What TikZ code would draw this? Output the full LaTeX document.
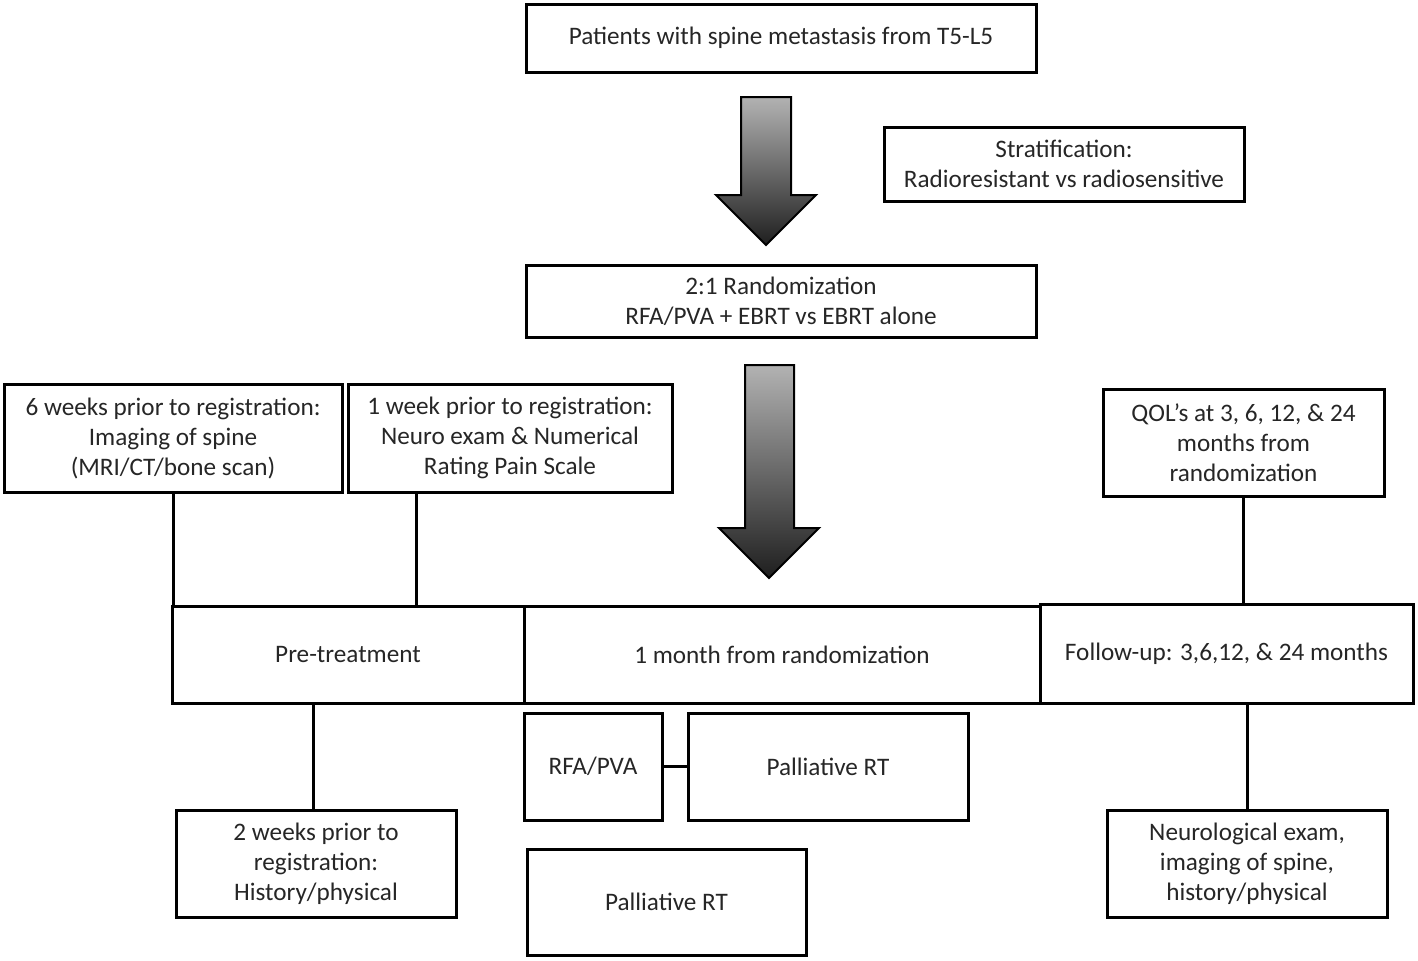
\documentclass[tikz,border=0pt]{standalone}
\usepackage{fontspec}
\setmainfont{Carlito}
\tikzset{
  box/.style={draw=black, line width=1.5pt, align=center, inner sep=1pt,
    font=\fontsize{12.6}{15}\selectfont, text=black!85},
  link/.style={line width=1.5pt},
  bigarrow/.style={top color=black!30, bottom color=black!88, draw=black, line width=1pt}
}
\begin{document}
\begin{tikzpicture}[x=0.5pt, y=-0.5pt]
  \useasboundingbox (0,0) rectangle (1418,960); % page frame
  % top part
  \node [box, minimum width=255pt, minimum height=34pt] (patients) at (781,38) {Patients with spine metastasis from T5-L5};
  \node [box, minimum width=180pt, minimum height=37pt] (strat) at (1064,164) {Stratification:\\Radioresistant vs radiosensitive};
  \node [box, minimum width=255pt, minimum height=36pt] (random) at (781,301) {2:1 Randomization\\RFA/PVA + EBRT vs EBRT alone};
  \fill [bigarrow] (741,97) -- (791,97) -- (791,195) -- (816,195) -- (766,245) -- (716,195) -- (741,195) -- cycle; % arrow 1
  \fill [bigarrow] (745,365) -- (794,365) -- (794,528) -- (819,528) -- (769,578) -- (719,528) -- (745,528) -- cycle; % arrow 2
  % boxes above the time line
  \node [box, minimum width=169pt, minimum height=54pt] (sixweeks) at (173,438) {6 weeks prior to registration:\\Imaging of spine\\(MRI/CT/bone scan)};
  \node [box, minimum width=162pt, minimum height=54pt] (oneweek) at (510,438) {1 week prior to registration:\\Neuro exam \& Numerical\\Rating Pain Scale};
  \node [box, minimum width=140.5pt, minimum height=53.5pt] (qol) at (1243.5,442.5) {QOL's at 3, 6, 12, \& 24\\months from\\randomization};
  % time line
  \node [box, minimum width=176pt, minimum height=48.5pt] (pretreat) at (348,654.5) {Pre-treatment};
  \node [box, minimum width=258pt, minimum height=48.5pt] (month) at (782,654.5) {1 month from randomization};
  \node [box, minimum width=186.5pt, minimum height=49.5pt] (followup) at (1226.5,653.5) {Follow-up: 3,6,12, \& 24 months};
  % boxes below the time line
  \node [box, minimum width=140pt, minimum height=53.5pt] (twoweeks) at (316,863.5) {2 weeks prior to\\registration:\\History/physical};
  \node [box, minimum width=69pt, minimum height=53.5pt] (rfa) at (593,766.5) {RFA/PVA};
  \node [box, minimum width=140pt, minimum height=53.5pt] (palone) at (828,766.5) {Palliative RT};
  \node [box, minimum width=139.5pt, minimum height=53pt] (paltwo) at (666.5,902) {Palliative RT};
  \node [box, minimum width=140pt, minimum height=53.5pt] (neuro) at (1247,863.5) {Neurological exam,\\imaging of spine,\\history/physical};
  % connectors
  \coordinate (oneleg) at (416,492); % foot of the 1 week box
  \coordinate (preleg) at (313,703); % foot of the pre-treatment box
  \draw [link] (sixweeks.south) -- (sixweeks.south |- pretreat.north);
  \draw [link] (oneleg) -- (oneleg |- pretreat.north);
  \draw [link] (qol.south) -- (qol.south |- followup.north);
  \draw [link] (preleg) -- (preleg |- twoweeks.north);
  \draw [link] (neuro.north) -- (neuro.north |- followup.south);
  \draw [link] (rfa) -- (palone);
\end{tikzpicture}
\end{document}
